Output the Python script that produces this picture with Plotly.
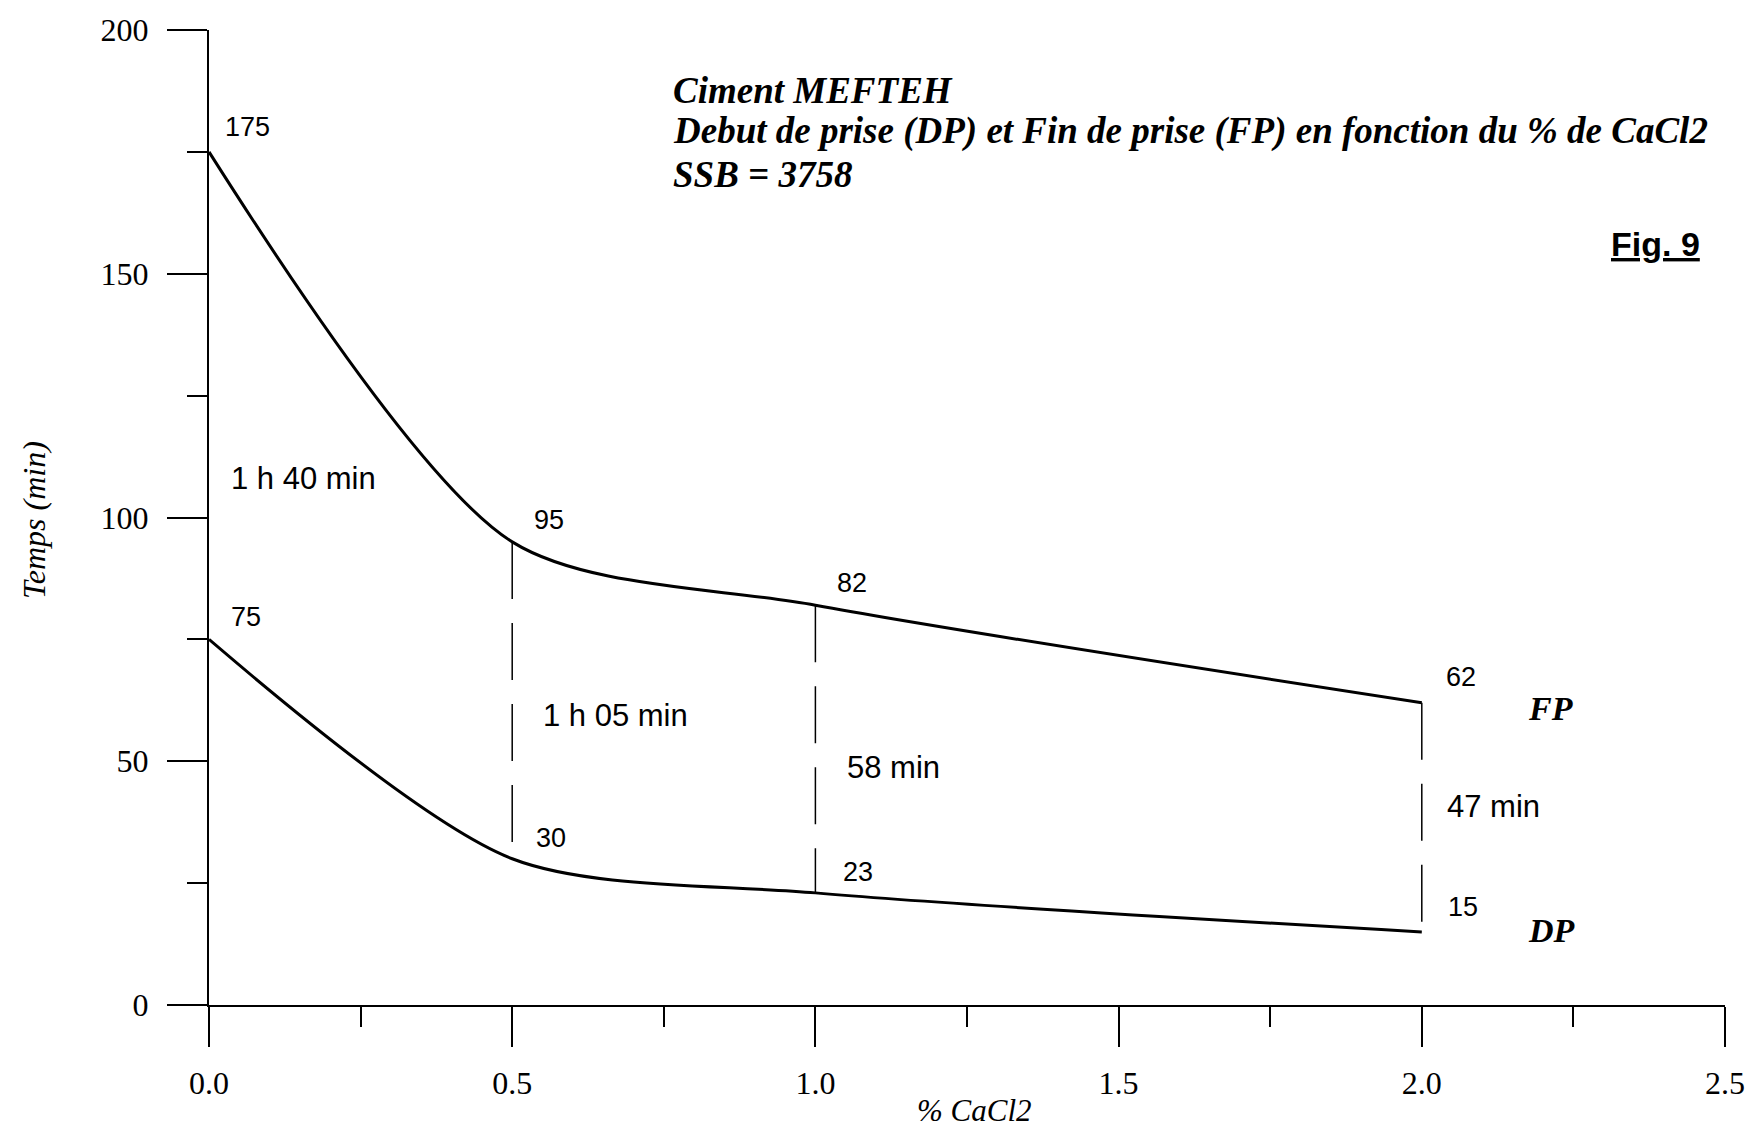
import plotly.graph_objects as go

# ---- data ----
cacl2 = [0.0, 0.5, 1.0, 2.0]
fp_values = [175, 95, 82, 62]   # Fin de prise (min)
dp_values = [75, 30, 23, 15]    # Debut de prise (min)
interval_labels = ["1 h 40 min", "1 h 05 min", "58 min", "47 min"]

x_ticks = [0.0, 0.5, 1.0, 1.5, 2.0, 2.5]
x_ticklabels = ["0.0", "0.5", "1.0", "1.5", "2.0", "2.5"]
y_ticks = [0, 50, 100, 150, 200]

title_lines = [
    "Ciment MEFTEH",
    "Debut de prise (DP) et Fin de prise (FP) en fonction du % de CaCl2",
    "SSB = 3758",
]

SERIF = "Liberation Serif"
SANS = "Liberation Sans"

fig = go.Figure()

# dashed connectors between DP and FP (skip x=0)
for xv, top, bot in zip(cacl2[1:], fp_values[1:], dp_values[1:]):
    fig.add_trace(go.Scatter(
        x=[xv, xv], y=[top, bot], mode="lines",
        line=dict(color="black", width=1.5, dash="57px,24px"),
        hoverinfo="skip", showlegend=False))

for vals in (fp_values, dp_values):
    fig.add_trace(go.Scatter(
        x=cacl2, y=vals, mode="lines",
        line=dict(color="black", width=3, shape="spline", smoothing=0.8),
        showlegend=False, cliponaxis=False))

ann = []
# value labels (offsets in px relative to data points)
fp_offsets = [(14, 25), (20, 22), (20, 22), (22, 26)]
dp_offsets = [(20, 22), (22, 21), (26, 21), (24, 25)]
for xv, v, (dx, dy) in zip(cacl2, fp_values, fp_offsets):
    ann.append(dict(x=xv, y=v, text=str(v), showarrow=False, xanchor="left", yanchor="middle",
                    xshift=dx, yshift=dy, font=dict(family=SANS, size=27, color="black")))
for xv, v, (dx, dy) in zip(cacl2, dp_values, dp_offsets):
    ann.append(dict(x=xv, y=v, text=str(v), showarrow=False, xanchor="left", yanchor="middle",
                    xshift=dx, yshift=dy, font=dict(family=SANS, size=27, color="black")))

# interval labels
interval_pos = [(0.033, 108.0), (0.548, 59.3), (1.049, 48.7), (2.039, 40.8)]
for txt, (xv, yv) in zip(interval_labels, interval_pos):
    ann.append(dict(x=xv, y=yv, text=txt, showarrow=False, xanchor="left", yanchor="middle",
                    font=dict(family=SANS, size=31, color="black")))

# series names
ann.append(dict(x=2.172, y=60.8, text="<b><i>FP</i></b>", showarrow=False, xanchor="left",
                yanchor="middle", font=dict(family=SERIF, size=34, color="black")))
ann.append(dict(x=2.172, y=15.3, text="<b><i>DP</i></b>", showarrow=False, xanchor="left",
                yanchor="middle", font=dict(family=SERIF, size=34, color="black")))

# title block
for line, yp in zip(title_lines, [0.9377, 0.8959, 0.8521]):
    ann.append(dict(xref="paper", yref="paper", x=0.305, y=yp, text="<b><i>" + line + "</i></b>",
                    showarrow=False, xanchor="left", yanchor="middle",
                    font=dict(family=SERIF, size=37, color="black")))

ann.append(dict(xref="paper", yref="paper", x=0.985, y=0.781, text="<b><u>Fig. 9</u></b>",
                showarrow=False, xanchor="right", yanchor="middle",
                font=dict(family=SANS, size=34, color="black")))

# axis titles
ann.append(dict(xref="paper", yref="paper", x=0.505, y=-0.108, text="<i>% CaCl2</i>",
                showarrow=False, xanchor="center", yanchor="middle",
                font=dict(family=SERIF, size=31, color="black")))
ann.append(dict(xref="paper", yref="paper", x=-0.115, y=0.497, text="<i>Temps (min)</i>",
                showarrow=False, xanchor="center", yanchor="middle", textangle=-90,
                font=dict(family=SERIF, size=32, color="black")))

fig.update_layout(
    width=1757, height=1132,
    margin=dict(l=209, r=30, t=22, b=127),
    paper_bgcolor="white", plot_bgcolor="white",
    annotations=ann,
    showlegend=False,
)

fig.update_xaxes(
    range=[0, 2.5], tickvals=x_ticks, ticktext=x_ticklabels,
    showline=True, linecolor="black", linewidth=2,
    ticks="outside", ticklen=40, tickwidth=1.5, tickcolor="black",
    minor=dict(dtick=0.25, tick0=0, ticks="outside", ticklen=20, tickwidth=1.5, tickcolor="black"),
    showgrid=False, zeroline=False, ticklabelstandoff=9,
    tickfont=dict(family=SERIF, size=32, color="black"),
)
fig.update_yaxes(
    range=[0, 200], tickvals=y_ticks,
    showline=True, linecolor="black", linewidth=2,
    ticks="outside", ticklen=40, tickwidth=1.5, tickcolor="black",
    minor=dict(dtick=25, tick0=0, ticks="outside", ticklen=20, tickwidth=1.5, tickcolor="black"),
    showgrid=False, zeroline=False, ticklabelstandoff=12,
    tickfont=dict(family=SERIF, size=32, color="black"),
)

fig.write_html("out.html")
